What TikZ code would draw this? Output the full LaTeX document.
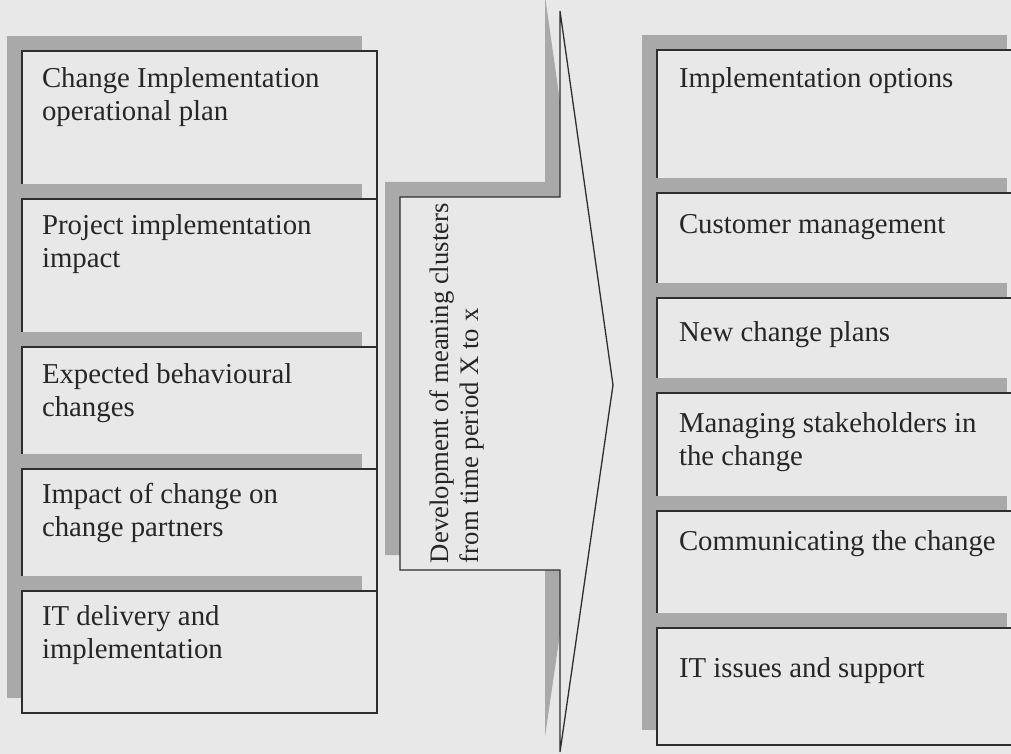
\documentclass[tikz,border=0pt]{standalone}
\usepackage{fontspec}
\setmainfont{Liberation Serif}
\usetikzlibrary{shadows}
\definecolor{bgcol}{HTML}{E8E8E8}
\definecolor{shadowcol}{HTML}{A9A9A9}
\definecolor{linecol}{HTML}{2E2E2E}
\tikzset{
  card/.style={rectangle, draw=linecol, line width=1.3pt, fill=bgcol,
    anchor=north west, inner sep=0pt, outer sep=0pt,
    general shadow={fill=shadowcol, shadow xshift=-15pt, shadow yshift=15pt}},
  lbl/.style={anchor=base west, inner sep=0pt, outer sep=0pt,
    font=\fontsize{28.8}{33}\selectfont, text=black!85},
  midlbl/.style={anchor=base west, inner sep=0pt, outer sep=0pt, rotate=90,
    font=\fontsize{26.7}{30}\selectfont, text=black!85},
  arrowshape/.style={draw=linecol, line width=1.3pt, fill=bgcol, line join=miter,
    general shadow={fill=shadowcol, shadow xshift=-15pt, shadow yshift=15pt}}
}
\begin{document}
\begin{tikzpicture}[x=1pt,y=-1pt]
\useasboundingbox (0,0) rectangle (1011,754);
\fill[bgcol] (0,0) rectangle (1011,754);
\clip (0,0) rectangle (1011,754);

% left column
\node[card, minimum width=355pt, minimum height=153pt] (l1) at (22,51) {};
\node[card, minimum width=355pt, minimum height=153pt] (l2) at (22,199) {};
\node[card, minimum width=355pt, minimum height=127pt] (l3) at (22,347) {};
\node[card, minimum width=355pt, minimum height=127pt] (l4) at (22,469) {};
\node[card, minimum width=355pt, minimum height=122pt] (l5) at (22,591) {};

\node[lbl] (tl1) at (42,88) {\begin{tabular}[t]{@{}l@{}}Change Implementation\\operational plan\end{tabular}};
\node[lbl] (tl2) at (42,234) {\begin{tabular}[t]{@{}l@{}}Project implementation\\impact\end{tabular}};
\node[lbl] (tl3) at (42,383) {\begin{tabular}[t]{@{}l@{}}Expected behavioural\\changes\end{tabular}};
\node[lbl] (tl4) at (42,503) {\begin{tabular}[t]{@{}l@{}}Impact of change on\\change partners\end{tabular}};
\node[lbl] (tl5) at (42,625) {\begin{tabular}[t]{@{}l@{}}IT delivery and\\implementation\end{tabular}};

% middle arrow
\draw[arrowshape] (560,11) -- (613,385) -- (560,752) -- (560,570) -- (400,570)
  -- (400,197) -- (560,197) -- cycle;
\node[midlbl] (mid) at (448,563) {\begin{tabular}[t]{@{}l@{}}Development of meaning clusters\\from time period X to x\end{tabular}};

% right column
\node[card, minimum width=365pt, minimum height=148pt] (r1) at (657,50) {};
\node[card, minimum width=365pt, minimum height=110pt] (r2) at (657,193) {};
\node[card, minimum width=365pt, minimum height=100pt] (r3) at (657,298) {};
\node[card, minimum width=365pt, minimum height=123pt] (r4) at (657,393) {};
\node[card, minimum width=365pt, minimum height=122pt] (r5) at (657,511) {};
\node[card, minimum width=365pt, minimum height=117pt] (r6) at (657,628) {};

\node[lbl] (tr1) at (679,88) {Implementation options};
\node[lbl] (tr2) at (679,233) {Customer management};
\node[lbl] (tr3) at (679,341) {New change plans};
\node[lbl] (tr4) at (679,432) {\begin{tabular}[t]{@{}l@{}}Managing stakeholders in\\the change\end{tabular}};
\node[lbl] (tr5) at (679,550) {Communicating the change};
\node[lbl] (tr6) at (679,677) {IT issues and support};
\end{tikzpicture}
\end{document}
